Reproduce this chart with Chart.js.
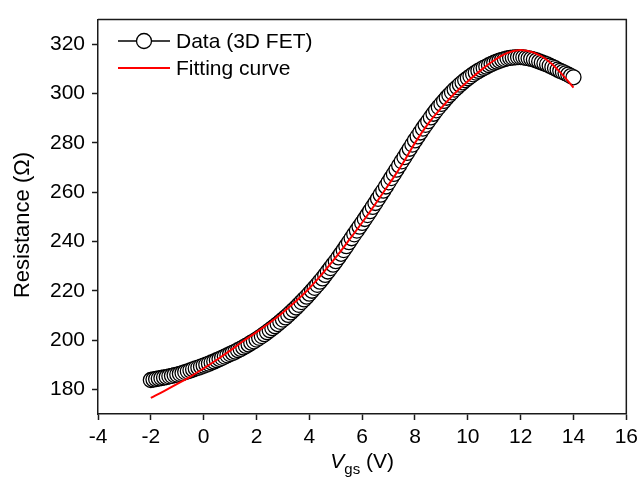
<!DOCTYPE html>
<html>
<head>
<meta charset="utf-8">
<script src="https://cdn.jsdelivr.net/npm/chart.js@4.4.1/dist/chart.umd.min.js"></script>
<style>
    html, body { margin: 0; padding: 0; background: #fff; }
    #wrap { width: 643px; height: 488px; position: relative; }
</style>
</head>
<body>
<div id="wrap"><canvas id="chart"></canvas></div>
<script>
// measured sweep (V) and resistance (Ohm)
const vgsData = [
    -2, -1.9, -1.8, -1.7, -1.6, -1.5, -1.4, -1.3, -1.2, -1.1,
    -1, -0.9, -0.8, -0.7, -0.6, -0.5, -0.4, -0.3, -0.2, -0.1,
    0, 0.1, 0.2, 0.3, 0.4, 0.5, 0.6, 0.7, 0.8, 0.9,
    1, 1.1, 1.2, 1.3, 1.4, 1.5, 1.6, 1.7, 1.8, 1.9,
    2, 2.1, 2.2, 2.3, 2.4, 2.5, 2.6, 2.7, 2.8, 2.9,
    3, 3.1, 3.2, 3.3, 3.4, 3.5, 3.6, 3.7, 3.8, 3.9,
    4, 4.1, 4.2, 4.3, 4.4, 4.5, 4.6, 4.7, 4.8, 4.9,
    5, 5.1, 5.2, 5.3, 5.4, 5.5, 5.6, 5.7, 5.8, 5.9,
    6, 6.1, 6.2, 6.3, 6.4, 6.5, 6.6, 6.7, 6.8, 6.9,
    7, 7.1, 7.2, 7.3, 7.4, 7.5, 7.6, 7.7, 7.8, 7.9,
    8, 8.1, 8.2, 8.3, 8.4, 8.5, 8.6, 8.7, 8.8, 8.9,
    9, 9.1, 9.2, 9.3, 9.4, 9.5, 9.6, 9.7, 9.8, 9.9,
    10, 10.1, 10.2, 10.3, 10.4, 10.5, 10.6, 10.7, 10.8, 10.9,
    11, 11.1, 11.2, 11.3, 11.4, 11.5, 11.6, 11.7, 11.8, 11.9,
    12, 12.1, 12.2, 12.3, 12.4, 12.5, 12.6, 12.7, 12.8, 12.9,
    13, 13.1, 13.2, 13.3, 13.4, 13.5, 13.6, 13.7, 13.8, 13.9,
    14
];
const resData = [
    183.8, 184.0, 184.2, 184.4, 184.6, 184.8, 185.0, 185.3, 185.5, 185.8,
    186.0, 186.3, 186.6, 187.0, 187.3, 187.7, 188.1, 188.5, 188.8, 189.2,
    189.6, 190.0, 190.4, 190.9, 191.3, 191.8, 192.3, 192.8, 193.3, 193.8,
    194.3, 194.8, 195.3, 195.9, 196.4, 197.0, 197.6, 198.2, 198.9, 199.5,
    200.2, 200.9, 201.6, 202.4, 203.2, 204.0, 204.8, 205.6, 206.5, 207.4,
    208.3, 209.2, 210.2, 211.2, 212.2, 213.2, 214.3, 215.4, 216.5, 217.6,
    218.8, 220.0, 221.2, 222.4, 223.7, 225.0, 226.4, 227.8, 229.2, 230.6,
    232.0, 233.5, 235.0, 236.5, 238.1, 239.7, 241.3, 242.9, 244.4, 246.0,
    247.5, 249.1, 250.7, 252.3, 254.0, 255.6, 257.3, 259.0, 260.6, 262.3,
    264.0, 265.7, 267.4, 269.1, 270.8, 272.5, 274.2, 275.9, 277.6, 279.3,
    281.0, 282.6, 284.2, 285.8, 287.3, 288.8, 290.3, 291.8, 293.2, 294.5,
    295.8, 297.0, 298.3, 299.4, 300.5, 301.6, 302.6, 303.6, 304.5, 305.4,
    306.2, 307.0, 307.8, 308.5, 309.2, 309.8, 310.4, 310.9, 311.5, 312.0,
    312.5, 312.9, 313.3, 313.7, 314.0, 314.3, 314.5, 314.6, 314.7, 314.8,
    314.8, 314.7, 314.5, 314.3, 314.1, 313.8, 313.4, 313.0, 312.6, 312.2,
    311.8, 311.3, 310.8, 310.3, 309.7, 309.2, 308.7, 308.2, 307.7, 307.1,
    306.6
];

// fitting curve
const vgsFit = [-2, -1.5, -1, -0.5, 0, 0.5, 1, 1.5, 2, 2.5, 3, 3.5, 4, 4.5, 5, 5.5,
    6, 6.5, 7, 7.5, 8, 8.5, 9, 9.5, 10, 10.5, 11, 11.5, 12, 12.5, 13, 13.5, 14];
const resFit = [176.5, 179.3, 182.2, 185.2, 188.5, 192.0, 195.7, 199.6, 203.2, 207.0,
    211.2, 215.8, 221.0, 227.0, 233.5, 240.5, 247.7, 255.2, 263.0, 271.0, 280.0,
    287.8, 294.2, 300.0, 305.0, 309.5, 313.5, 316.5, 317.7, 316.6, 313.6, 308.6, 302.4];

const xTicks = [-4, -2, 0, 2, 4, 6, 8, 10, 12, 14, 16];
const yTicks = [180, 200, 220, 240, 260, 280, 300, 320];
const legendLabels = ['Data (3D FET)', 'Fitting curve'];
const yTitle = 'Resistance (\u03A9)';

const FONT = 'Arial, "Liberation Sans", Helvetica, sans-serif';
const AXIS_COLOR = '#1a1a1a';

const toPoints = (xs, ys) => xs.map((x, i) => ({ x: x, y: ys[i] }));

// box on top/right, legend and both axis titles
const decorPlugin = {
    id: 'decor',
    afterDraw(chart) {
        const { ctx, chartArea: a } = chart;
        ctx.save();
        ctx.strokeStyle = AXIS_COLOR;
        ctx.lineWidth = 1.5;
        ctx.beginPath();
        ctx.moveTo(a.left, a.top);
        ctx.lineTo(a.right, a.top);
        ctx.lineTo(a.right, a.bottom);
        ctx.stroke();

        // legend
        ctx.font = '21px ' + FONT;
        ctx.textBaseline = 'middle';
        ctx.strokeStyle = '#000';
        ctx.lineWidth = 1.5;
        ctx.beginPath();
        ctx.moveTo(118, 41);
        ctx.lineTo(170, 41);
        ctx.stroke();
        ctx.beginPath();
        ctx.arc(144, 41, 7.5, 0, Math.PI * 2);
        ctx.fillStyle = '#fff';
        ctx.fill();
        ctx.lineWidth = 1.3;
        ctx.stroke();
        ctx.fillStyle = '#000';
        ctx.fillText(legendLabels[0], 176, 42);

        ctx.strokeStyle = '#ff0000';
        ctx.lineWidth = 2;
        ctx.beginPath();
        ctx.moveTo(118, 68);
        ctx.lineTo(170, 68);
        ctx.stroke();
        ctx.fillText(legendLabels[1], 176, 69);

        // y title
        ctx.save();
        ctx.translate(23, 225);
        ctx.rotate(-Math.PI / 2);
        ctx.textAlign = 'center';
        ctx.font = '22px ' + FONT;
        ctx.fillText(yTitle, 0, 0);
        ctx.restore();

        // x title: V_gs (V)
        const cx = (a.left + a.right) / 2;
        const baseY = 468;
        const fV = 'italic 21px ' + FONT;
        const fSub = '15px ' + FONT;
        const fRest = '21px ' + FONT;
        ctx.textBaseline = 'alphabetic';
        ctx.font = fV; const wV = ctx.measureText('V').width;
        ctx.font = fSub; const wS = ctx.measureText('gs').width;
        ctx.font = fRest; const wR = ctx.measureText(' (V)').width;
        let x = cx - (wV + wS + wR) / 2;
        ctx.font = fV; ctx.fillText('V', x, baseY); x += wV;
        ctx.font = fSub; ctx.fillText('gs', x, baseY + 6); x += wS;
        ctx.font = fRest; ctx.fillText(' (V)', x, baseY);
        ctx.restore();
    }
};

new Chart(document.getElementById('chart'), {
    type: 'scatter',
    data: {
        datasets: [
            {
                label: legendLabels[0],
                data: toPoints(vgsData, resData),
                showLine: true,
                borderColor: '#000',
                borderWidth: 1,
                pointRadius: 7.5,
                pointBorderWidth: 1.3,
                pointBorderColor: '#000',
                pointBackgroundColor: '#fff',
                order: 1
            },
            {
                label: legendLabels[1],
                data: toPoints(vgsFit, resFit),
                showLine: true,
                borderColor: '#ff0000',
                borderWidth: 2,
                pointRadius: 0,
                tension: 0.4,
                order: 0
            }
        ]
    },
    options: {
        responsive: true,
        maintainAspectRatio: false,
        animation: false,
        events: [],
        layout: { padding: { top: 12, right: 15, left: 0, bottom: 0 } },
        plugins: {
            legend: { display: false },
            tooltip: { enabled: false }
        },
        scales: {
            x: {
                type: 'linear',
                min: -4,
                max: 16,
                afterFit: scale => { scale.height = 74; },
                afterBuildTicks: scale => { scale.ticks = xTicks.map(v => ({ value: v })); },
                grid: { drawOnChartArea: false, tickLength: 6, tickColor: AXIS_COLOR, tickWidth: 1.5 },
                border: { color: AXIS_COLOR, width: 1.5 },
                ticks: { color: '#000', font: { family: FONT, size: 21 }, padding: 5, maxRotation: 0 }
            },
            y: {
                type: 'linear',
                min: 170,
                max: 330,
                afterFit: scale => { scale.width = 98; },
                afterBuildTicks: scale => { scale.ticks = yTicks.map(v => ({ value: v })); },
                grid: { drawOnChartArea: false, tickLength: 6, tickColor: AXIS_COLOR, tickWidth: 1.5 },
                border: { color: AXIS_COLOR, width: 1.5 },
                ticks: { color: '#000', font: { family: FONT, size: 21 }, padding: 7 }
            }
        }
    },
    plugins: [decorPlugin]
});
</script>
</body>
</html>
